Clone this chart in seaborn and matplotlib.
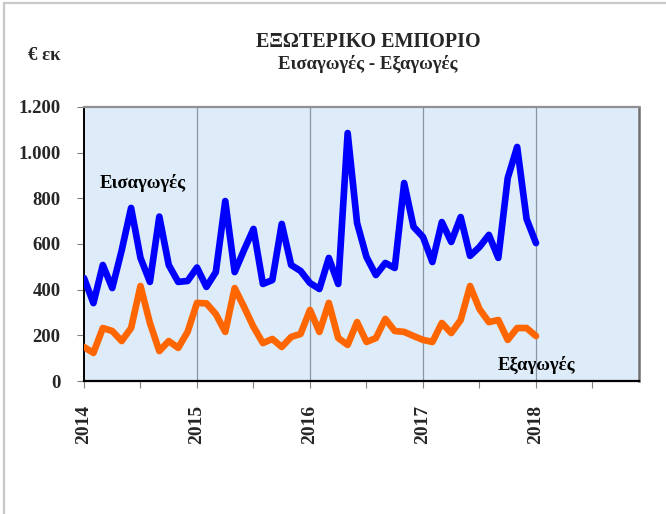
import numpy as np
import pandas as pd
import matplotlib
matplotlib.use("Agg")
import matplotlib.pyplot as plt
from matplotlib.lines import Line2D
from matplotlib.ticker import FixedLocator, FuncFormatter
import seaborn as sns

# ---- data (monthly, Jan 2014 .. Jan 2018), million euro ----
imports = [451, 341, 508, 407, 572, 758, 539, 434, 720, 508, 434, 438,
           497, 412, 477, 788, 477, 574, 666, 425, 442, 688, 508, 482,
           429, 403, 539, 425, 1086, 692, 543, 464, 517, 495, 867, 675,
           631, 521, 696, 609, 718, 548, 587, 640, 539, 889, 1025, 710,
           604]
exports = [149, 123, 232, 219, 175, 232, 416, 254, 131, 175, 145, 215,
           342, 340, 293, 215, 407, 324, 237, 166, 184, 149, 193, 206,
           311, 215, 342, 188, 158, 258, 171, 188, 272, 219, 215, 197,
           180, 171, 254, 210, 267, 416, 315, 258, 267, 180, 232, 232,
           197]
year_labels = ["2014", "2015", "2016", "2017", "2018"]
y_ticks = [0, 200, 400, 600, 800, 1000, 1200]

months = np.arange(len(imports))
df = pd.DataFrame({"month": np.concatenate([months, months]),
                   "value": imports + exports,
                   "series": ["Εισαγωγές"] * len(imports) + ["Εξαγωγές"] * len(exports)})

sns.set_theme(style="white")
plt.rcParams["font.family"] = ["Liberation Serif", "DejaVu Serif"]
plt.rcParams["font.weight"] = "bold"

fig = plt.figure(figsize=(6.66, 5.14), dpi=100)
ax = fig.add_axes([84 / 666, 133 / 514, 555 / 666, 274 / 514])
ax.set_facecolor("#deebf8")

sns.lineplot(data=df, x="month", y="value", hue="series",
             palette={"Εισαγωγές": "#0000ff", "Εξαγωγές": "#ff6600"},
             linewidth=4.8, legend=False, ax=ax, zorder=3)

ax.set_xlim(0, 58.94)
ax.set_ylim(0, 1200)

major_x = [12 * i for i in range(len(year_labels))]
ax.xaxis.set_major_locator(FixedLocator(major_x))
ax.set_xticklabels(year_labels, rotation=90, fontsize=14, fontweight="bold")
ax.xaxis.set_minor_locator(FixedLocator([6, 18, 30, 42, 54]))
ax.yaxis.set_major_locator(FixedLocator(y_ticks))
ax.yaxis.set_major_formatter(FuncFormatter(lambda v, p: f"{int(v):,}".replace(",", ".")))
for lab in ax.get_yticklabels():
    lab.set_fontsize(13.5)
    lab.set_fontweight("bold")

ax.tick_params(axis="x", which="major", direction="out", length=5, width=0.8,
               color="#808080", pad=12, bottom=True)
ax.tick_params(axis="x", which="minor", direction="out", length=5, width=0.8,
               color="#808080", bottom=True)
ax.tick_params(axis="y", which="major", direction="out", length=5, width=0.8,
               color="#808080", pad=12, left=True)

ax.grid(False)
for x in major_x[1:]:
    ax.axvline(x, color="#8a94a4", linewidth=0.9, zorder=1)

ax.spines["left"].set_color("black")
ax.spines["left"].set_linewidth(1.4)
ax.spines["bottom"].set_color("black")
ax.spines["bottom"].set_linewidth(1.6)
ax.spines["top"].set_color("#909090")
ax.spines["top"].set_linewidth(1.6)
ax.spines["right"].set_color("#707070")
ax.spines["right"].set_linewidth(1.8)

ax.set_xlabel("")
ax.set_ylabel("")

ax.text(1.7, 867, "Εισαγωγές", fontsize=13.5, fontweight="bold",
        ha="left", va="center", color="black", zorder=4)
ax.text(43.9, 70, "Εξαγωγές", fontsize=13.5, fontweight="bold",
        ha="left", va="center", color="black", zorder=4)

fig.text(368 / 666, 1 - 42 / 514, "ΕΞΩΤΕΡΙΚΟ ΕΜΠΟΡΙΟ", fontsize=14.5,
         fontweight="bold", ha="center", va="center")
fig.text(368 / 666, 1 - 64 / 514, "Εισαγωγές - Εξαγωγές", fontsize=13.5,
         fontweight="bold", ha="center", va="center")
fig.text(28 / 666, 1 - 55 / 514, "€ εκ", fontsize=13.5, fontweight="bold",
         ha="left", va="center")

# outer chart frame (left and top edges visible)
fig.add_artist(Line2D([4 / 666, 4 / 666], [0, 1 - 3 / 514], transform=fig.transFigure,
                      color="#c8c8c8", linewidth=1.6))
fig.add_artist(Line2D([4 / 666, 1], [1 - 3 / 514, 1 - 3 / 514], transform=fig.transFigure,
                      color="#c8c8c8", linewidth=1.6))

fig.savefig("out.png", dpi=100)
